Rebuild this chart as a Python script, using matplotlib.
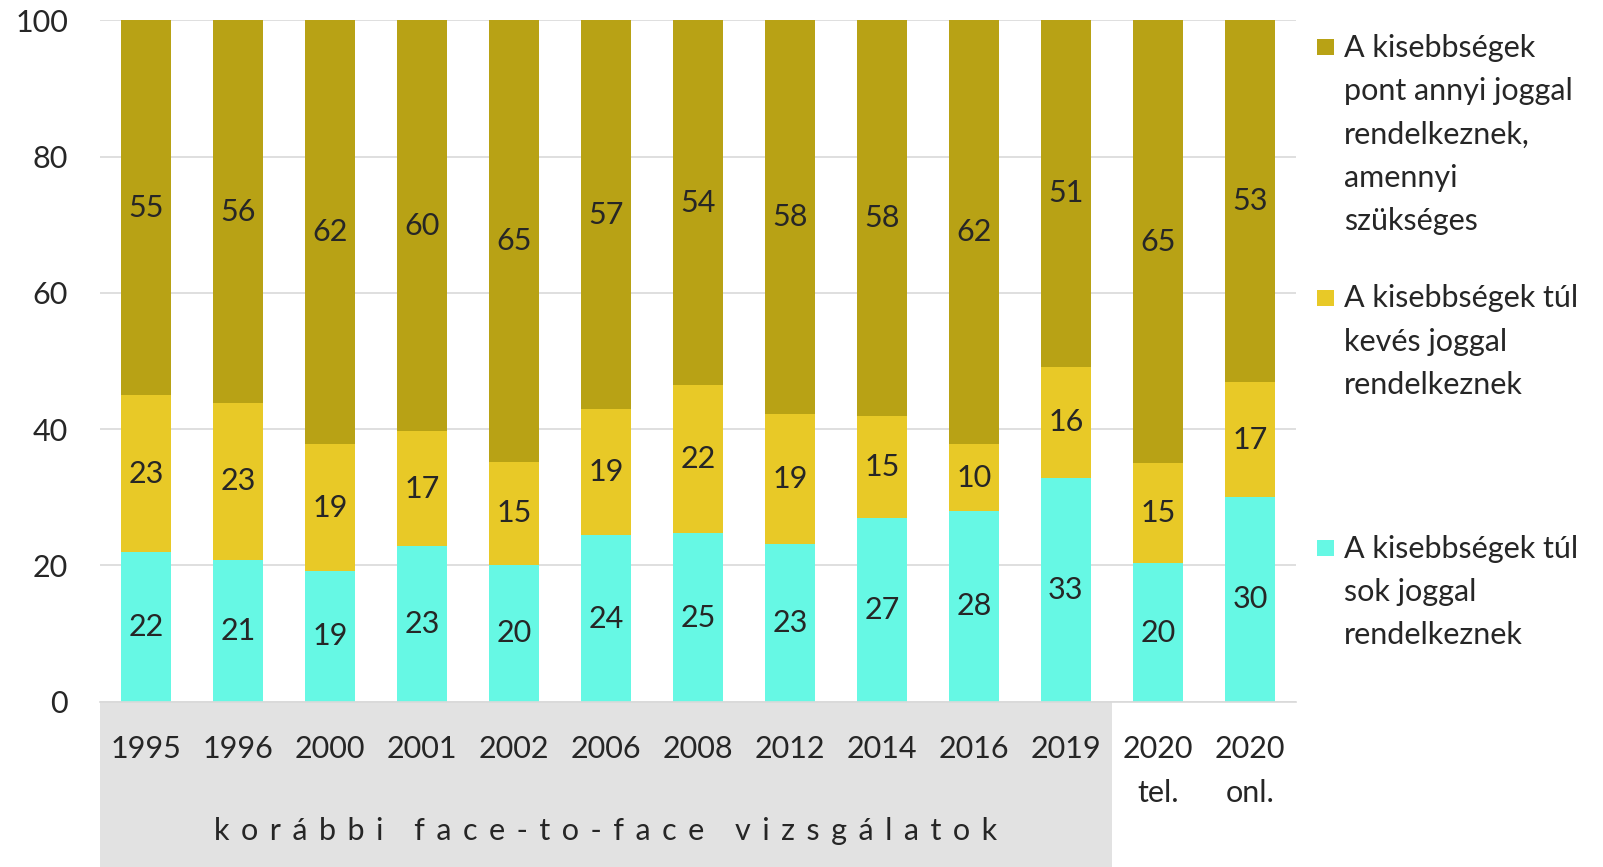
import matplotlib.pyplot as plt
from matplotlib.patches import Rectangle
import numpy as np

# data (percent)
years = ["1995", "1996", "2000", "2001", "2002", "2006", "2008", "2012",
         "2014", "2016", "2019", "2020\ntel.", "2020\nonl."]
too_many = [21.9, 20.8, 19.2, 22.8, 20.1, 24.4, 24.7, 23.1, 27.0, 28.0, 32.8, 20.3, 30.0]
too_few = [23.1, 23.1, 18.6, 16.9, 15.1, 18.6, 21.8, 19.2, 15.0, 9.8, 16.4, 14.7, 16.9]
just_right = [55.0, 56.1, 62.2, 60.3, 64.8, 57.0, 53.6, 57.7, 58.0, 62.2, 50.8, 65.0, 53.1]

legend_labels = ["A kisebbségek\npont annyi joggal\nrendelkeznek,\namennyi\nszükséges",
                 "A kisebbségek túl\nkevés joggal\nrendelkeznek",
                 "A kisebbségek túl\nsok joggal\nrendelkeznek"]
group_label = "korábbi face-to-face vizsgálatok"

c_cyan = "#66F8E4"
c_yellow = "#E8C927"
c_olive = "#B8A215"
txt = "#262626"

plt.rcParams['font.family'] = ['Lato', 'DejaVu Sans']
plt.rcParams['axes.axisbelow'] = True

fig = plt.figure(figsize=(16.03, 8.67), dpi=100)
ax = fig.add_axes([0.0624, 0.1907, 0.746, 0.7857])

x = np.arange(len(years))
w = 0.55
b1 = ax.bar(x, too_many, w, color=c_cyan)
b2 = ax.bar(x, too_few, w, bottom=too_many, color=c_yellow)
b3 = ax.bar(x, just_right, w, bottom=np.array(too_many) + np.array(too_few), color=c_olive)

for bars, vals in [(b1, too_many), (b2, too_few), (b3, just_right)]:
    ax.bar_label(bars, labels=[str(int(round(v))) for v in vals], label_type='center',
                 fontsize=22, color=txt)

ax.set_xlim(-0.5, 12.5)
ax.set_ylim(0, 100)
ax.set_yticks([0, 20, 40, 60, 80, 100])
ax.yaxis.grid(True, color="#D9D9D9", linewidth=1.2)
ax.tick_params(axis='y', length=0, pad=23, labelsize=22, labelcolor=txt)
ax.set_xticks(x)
ax.set_xticklabels(years, fontsize=22, color=txt)
for t in ax.get_xticklabels():
    t.set_linespacing(1.7)
ax.tick_params(axis='x', length=0, pad=24)
for s in ["top", "right", "left"]:
    ax.spines[s].set_visible(False)
ax.spines["bottom"].set_color("#D9D9D9")
ax.spines["bottom"].set_linewidth(1.2)

# grey band behind the earlier face-to-face surveys
band = Rectangle((-0.5, -0.3), 11, 0.3, transform=ax.get_xaxis_transform(),
                 facecolor="#E2E2E2", edgecolor="none", clip_on=False, zorder=0.3)
ax.add_patch(band)
ax.text(5, -0.19, " \u200a\u200a".join(group_label),
        transform=ax.get_xaxis_transform(), ha='center', va='center',
        fontsize=22, color=txt)

# legend drawn by hand
leg_y = [47, 297.5, 548]
for lab, col, yy in zip(legend_labels, [c_olive, c_yellow, c_cyan], leg_y):
    fig.patches.append(Rectangle((1317 / 1603, 1 - (yy + 8) / 867), 17 / 1603, 16 / 867,
                                 transform=fig.transFigure, facecolor=col, edgecolor="none"))
    fig.text(1344 / 1603, 1 - (yy - 13) / 867, lab, fontsize=22, color=txt,
             va='top', ha='left', linespacing=1.66)

fig.savefig("out.png", dpi=100)
